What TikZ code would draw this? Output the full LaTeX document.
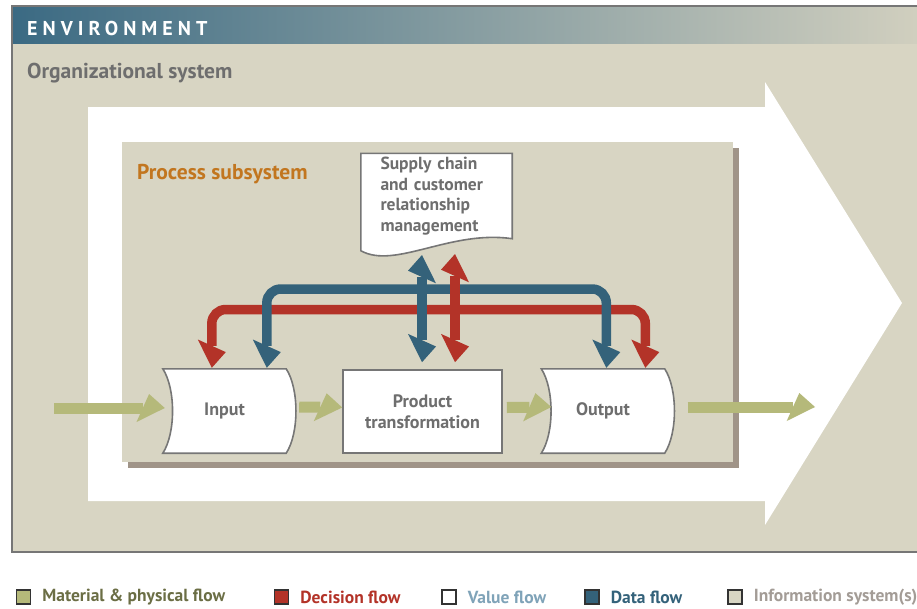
\documentclass[tikz,border=0pt]{standalone}
\usepackage{fontspec}
\setmainfont{PT Sans}
\usetikzlibrary{arrows.meta,calc,positioning}

\definecolor{envbeige}{HTML}{D8D5C3}
\definecolor{envteal}{HTML}{3B6A83}
\definecolor{framegray}{HTML}{767676}
\definecolor{textgray}{HTML}{6E6E6E}
\definecolor{shadowtaupe}{HTML}{A09488}
\definecolor{procorange}{HTML}{C2761F}
\definecolor{matgreen}{HTML}{B5B97A}
\definecolor{matolive}{HTML}{6B6E45}
\definecolor{decred}{HTML}{B33328}
\definecolor{datablue}{HTML}{34627A}
\definecolor{valueblue}{HTML}{7FA3B8}
\definecolor{infogray}{HTML}{A39C96}

\pgfdeclarelayer{frame}
\pgfdeclarelayer{boxes}
\pgfsetlayers{frame,boxes,main}

\tikzset{
  flowtip/.tip={Triangle[width=28pt,length=22pt,slant=.45,line width=0pt]},
  matflow/.style={draw=matgreen, line width=11pt, -{flowtip}},
  decflow/.style={draw=decred, line width=9.5pt, rounded corners=14pt, {flowtip}-{flowtip}},
  dataflow/.style={draw=datablue, line width=9.5pt, rounded corners=14pt, {flowtip}-{flowtip}},
  boxline/.style={draw=framegray, line width=1.6pt, fill=white},
  boxtext/.style={text=textgray, font=\bfseries\fontsize{18}{21}\selectfont, inner sep=0pt, align=center},
  flowbox/.style={boxtext, minimum width=123pt, minimum height=84pt},
  title/.style={anchor=west, inner sep=0pt, font=\bfseries\fontsize{21.5}{24}\selectfont},
  legbox/.style={draw=black!80, line width=1.3pt, minimum size=14pt, inner sep=0pt},
  legtext/.style={inner sep=0pt, font=\bfseries\fontsize{17.5}{20}\selectfont}
}

\begin{document}
\begin{tikzpicture}[x=1pt,y=-1pt]
  \useasboundingbox (0,0) rectangle (917,608);
  \clip (0,0) rectangle (917,608);

  \begin{pgfonlayer}{frame}
    \clip (0,0) rectangle (917,608);
    % environment frame with its header band
    \fill[envbeige] (12,6) rectangle (940,552);
    \shade[left color=envteal, right color=envbeige!96!gray] (12,6) rectangle (940,43);
    \draw[framegray, line width=1.5pt] (940,6) -- (12,6) -- (12,552) -- (940,552);
    % white arrow of the organizational system
    \fill[white] (88,107) -- (765,107) -- (765,82) -- (902,303)
      -- (765,525) -- (765,501) -- (88,501) -- cycle;
    % process subsystem and its shadow
    \fill[shadowtaupe] (128,148) rectangle (739,468);
    \fill[envbeige] (122,142) rectangle (733,462);
  \end{pgfonlayer}

  \node[title, text=white, font=\bfseries\fontsize{20}{22}\selectfont\addfontfeatures{LetterSpace=25}] (envtitle) at (27,28) {ENVIRONMENT};
  \node[title, text=textgray] (orgtitle) at (27,73) {Organizational system};
  \node[title, text=procorange] (proctitle) at (137,174) {Process subsystem};

  % process boxes
  \node[flowbox] (input) at (224.5,411) {Input};
  \node[boxtext, draw=framegray, line width=1.6pt, fill=white,
    minimum width=159pt, minimum height=83pt] (product) at (422.5,411.5) {Product\\transformation};
  \node[flowbox] (output) at (603,411) {Output};
  \node[boxtext, align=left, text width=112pt, minimum width=151pt, minimum height=85pt,
    font=\bfseries\fontsize{17.5}{20.5}\selectfont] (scm) at (436.5,196)
    {Supply chain\\and customer\\relationship\\management};

  \begin{pgfonlayer}{boxes}
    \draw[boxline] (input.north west) .. controls +(13,20) and +(13,-20) .. (input.south west)
      -- (input.south east) .. controls +(13,-20) and +(13,20) .. (input.north east) -- cycle;
    \draw[boxline] (output.north west) .. controls +(13,20) and +(13,-20) .. (output.south west)
      -- (output.south east) .. controls +(13,-20) and +(13,20) .. (output.north east) -- cycle;
    \draw[boxline] (scm.south east) -- (scm.north east) -- (scm.north west)
      -- ($(scm.south west)+(0,12)$) .. controls +(34,19) and +(-62,-9) .. (scm.south east) -- cycle;
  \end{pgfonlayer}

  % decision and data flows
  \coordinate (decbar) at (430,309.5);
  \coordinate (databar) at (430,289);
  \coordinate (scmdata) at (422,255);
  \coordinate (scmdec) at (455,254);
  \draw[decflow] ([xshift=49pt,yshift=1pt]input.north west) |- (decbar)
    -| ([xshift=104pt,yshift=1pt]output.north west);
  \draw[dataflow] ([xshift=104pt,yshift=1pt]input.north west) |- (databar)
    -| ([xshift=65pt,yshift=1pt]output.north west);
  \draw[dataflow] (scmdata) -- ($(scmdata |- product.north)+(0,-7)$);
  \draw[decflow] (scmdec) -- ($(scmdec |- product.north)+(0,-7)$);

  % material and physical flow
  \coordinate (matin) at (54,408);
  \coordinate (matout) at (815,407);
  \draw[matflow] (matin) -- ([xshift=2pt,yshift=3pt]input.west);
  \draw[matflow] ([xshift=13pt,yshift=4pt]input.east) -- ([yshift=4pt]product.west);
  \draw[matflow] ([xshift=4pt,yshift=4pt]product.east) -- ([xshift=10pt,yshift=4pt]output.west);
  \draw[matflow] ([xshift=23pt,yshift=4pt]output.east) -- (matout);

  % legend
  \node[legbox, fill=matgreen] (legmat) at (23.5,597) {};
  \node[legtext, text=matolive, right=11pt of legmat] (legmattext) {Material \& physical flow};
  \node[legbox, fill=decred] (legdec) at (281.5,597) {};
  \node[legtext, text=decred, right=11pt of legdec] (legdectext) {Decision flow};
  \node[legbox, fill=white] (legval) at (449,597) {};
  \node[legtext, text=valueblue, right=11pt of legval] (legvaltext) {Value flow};
  \node[legbox, fill=datablue] (legdata) at (592,597) {};
  \node[legtext, text=datablue, right=11pt of legdata] (legdatatext) {Data flow};
  \node[legbox, fill=envbeige] (leginfo) at (735,597) {};
  \node[legtext, text=infogray, right=11pt of leginfo] (leginfotext) {Information system(s)};
\end{tikzpicture}
\end{document}
